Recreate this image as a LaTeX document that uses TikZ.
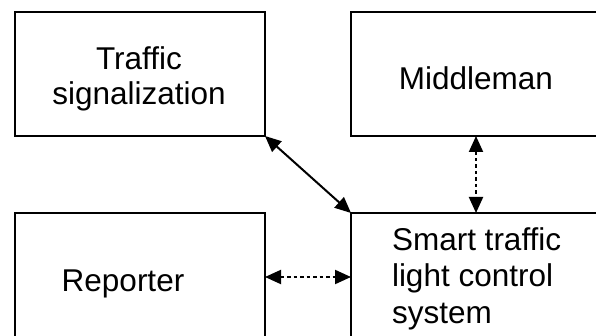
\documentclass[tikz,border=0pt]{standalone}
\usepackage{fontspec}
\setmainfont{Liberation Sans}
\usetikzlibrary{arrows.meta}
\tikzset{
  box/.style={draw=black, line width=2pt, fill=none, minimum width=250pt, inner sep=0pt, outer sep=0pt},
  lbl/.style={inner sep=0pt, outer sep=0pt, font=\fontsize{31.5}{36}\selectfont},
  biarrow/.style={line width=2pt, {Triangle[length=16pt,width=14pt]}-{Triangle[length=16pt,width=14pt]}},
  dotted link/.style={biarrow, dash pattern=on 3.5pt off 3pt}
}
\begin{document}
\begin{tikzpicture}[x=1pt,y=-1pt]
\useasboundingbox (0,0) rectangle (596,336);
\clip (0,0) rectangle (596,336);
\fill[white] (0,0) rectangle (596,336);
% boxes
\node[box, minimum height=124pt] (ts) at (140,74) {};
\node[box, minimum height=124pt] (mid) at (476,74) {};
\node[box, minimum height=128pt] (rep) at (140,277) {};
\node[box, minimum height=128pt] (stlc) at (476,277) {};
% texts
\node[lbl, anchor=base] (tsA) at (139,69.5) {Traffic};
\node[lbl, anchor=base] (tsB) at (139,105) {signalization};
\node[lbl, anchor=base] (midT) at (476,90) {Middleman};
\node[lbl, anchor=base] (repT) at (123,291.5) {Reporter};
\node[lbl, anchor=base west] (stA) at (392,251) {Smart traffic};
\node[lbl, anchor=base west] (stB) at (392,287) {light control};
\node[lbl, anchor=base west] (stC) at (392,323) {system};
% connectors
\draw[biarrow] (ts.south east) -- (stlc.north west);
\draw[dotted link] (mid.south) -- (stlc.north);
\draw[dotted link] (rep.east) -- (stlc.west);
\end{tikzpicture}
\end{document}
